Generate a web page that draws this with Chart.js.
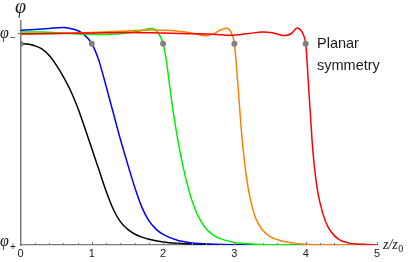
<!DOCTYPE html>
<html>
<head>
<meta charset="utf-8">
<script src="https://cdn.jsdelivr.net/npm/chart.js@4.4.1/dist/chart.umd.min.js"></script>
<style>
  html, body { margin: 0; padding: 0; background: #fff; }
</style>
</head>
<body>
<canvas id="chart_phi" width="410" height="262"></canvas>
<script>
// wall profiles; z in units of z0, phi: 0 = phi+, 1 = phi-
var blackZ = [0, 0.1, 0.2, 0.3, 0.4, 0.5, 0.6, 0.7, 0.8, 0.9, 1.0, 1.1, 1.2, 1.3, 1.4, 1.5, 1.6, 1.7, 1.8, 2.0, 2.2, 2.5, 3.0, 3.5, 5];
var blackPhi = [0.95, 0.948, 0.94, 0.925, 0.895, 0.85, 0.795, 0.73, 0.65, 0.555, 0.455, 0.355, 0.255, 0.17, 0.11, 0.075, 0.052, 0.037, 0.027, 0.014, 0.008, 0.004, 0.001, 0, 0];

var blueZ = [0, 0.2, 0.4, 0.6, 0.7, 0.8, 0.88, 0.95, 1.0, 1.05, 1.1, 1.2, 1.3, 1.4, 1.5, 1.6, 1.7, 1.8, 1.9, 2.0, 2.2, 2.4, 2.7, 3.0, 3.5, 5];
var bluePhi = [1.013, 1.017, 1.022, 1.026, 1.022, 1.012, 0.995, 0.973, 0.95, 0.915, 0.87, 0.75, 0.625, 0.5, 0.385, 0.275, 0.18, 0.115, 0.075, 0.05, 0.022, 0.01, 0.004, 0.001, 0, 0];

var greenZ = [0, 0.3, 0.6, 0.9, 1.2, 1.5, 1.7, 1.8, 1.85, 1.9, 1.95, 2.0, 2.05, 2.1, 2.15, 2.21, 2.3, 2.4, 2.5, 2.6, 2.7, 2.8, 3.0, 3.3, 3.6, 5];
var greenPhi = [1.005, 1.005, 1.0, 0.995, 0.993, 1.0, 1.012, 1.02, 1.022, 1.012, 0.99, 0.95, 0.86, 0.73, 0.61, 0.49, 0.34, 0.215, 0.13, 0.078, 0.048, 0.03, 0.012, 0.004, 0.001, 0];

var orangeZ = [0, 0.5, 1.0, 1.5, 1.8, 2.1, 2.4, 2.6, 2.7, 2.8, 2.89, 2.94, 2.97, 3.0, 3.03, 3.06, 3.1, 3.15, 3.2, 3.25, 3.3, 3.4, 3.5, 3.65, 3.8, 4.0, 4.3, 5];
var orangePhi = [0.995, 0.998, 1.003, 1.01, 1.014, 1.012, 1.0, 0.987, 0.995, 1.014, 1.023, 1.012, 0.99, 0.95, 0.84, 0.71, 0.53, 0.37, 0.255, 0.18, 0.125, 0.068, 0.04, 0.02, 0.01, 0.004, 0.001, 0];

var redZ = [0, 0.5, 1.0, 1.5, 2.0, 2.4, 2.7, 2.95, 3.2, 3.4, 3.55, 3.7, 3.8, 3.88, 3.94, 3.97, 4.0, 4.02, 4.04, 4.065, 4.09, 4.12, 4.16, 4.2, 4.28, 4.35, 4.47, 4.6, 4.8, 5];
var redPhi = [0.997, 0.998, 1.0, 1.003, 1.0, 0.997, 0.995, 0.99, 0.998, 1.005, 1.0, 0.988, 0.998, 1.024, 1.01, 0.99, 0.95, 0.86, 0.75, 0.62, 0.49, 0.375, 0.27, 0.2, 0.11, 0.065, 0.025, 0.01, 0.003, 0];

// gray markers on each profile
var dotZ = [0, 1, 2, 3, 4];
var dotPhi = [0.95, 0.95, 0.95, 0.95, 0.95];

var xTickStep = 1;
var xMinorStep = 0.2;

var axisColor = "#7a7a7a";

function toPoints(zs, ps) {
  var pts = [];
  for (var i = 0; i < zs.length; i++) {
    pts.push({ x: zs[i], y: ps[i] });
  }
  return pts;
}

function curve(zs, ps, color) {
  return {
    data: toPoints(zs, ps),
    showLine: true,
    borderColor: color,
    borderWidth: 1.5,
    pointRadius: 0,
    cubicInterpolationMode: 'monotone',
    fill: false
  };
}

// extra decorations: inward ticks, phi labels, axis label, annotation
var decor = {
  id: 'decor',
  afterDraw: function (chart) {
    var ctx = chart.ctx;
    var xs = chart.scales.x;
    var ys = chart.scales.y;
    var yBase = ys.getPixelForValue(0);
    var yMinus = ys.getPixelForValue(1);
    var xLeft = xs.getPixelForValue(0);
    ctx.save();
    ctx.strokeStyle = axisColor;
    ctx.lineWidth = 1;
    var n = Math.round((xs.max - xs.min) / xMinorStep);
    for (var i = 1; i <= n; i++) {
      var v = xs.min + i * xMinorStep;
      var px = Math.round(xs.getPixelForValue(v)) + 0.5;
      var len = (i % 5 == 0) ? 3 : 2;
      ctx.beginPath();
      ctx.moveTo(px, yBase);
      ctx.lineTo(px, yBase - len);
      ctx.stroke();
    }
    ctx.beginPath();
    ctx.moveTo(xLeft - 3, Math.round(yMinus) + 0.5);
    ctx.lineTo(xLeft, Math.round(yMinus) + 0.5);
    ctx.stroke();

    ctx.fillStyle = "#1a1a1a";
    ctx.textBaseline = 'alphabetic';
    ctx.textAlign = 'center';
    ctx.font = 'italic 20px "Liberation Serif"';
    ctx.fillText('\u03c6', xLeft, 13);

    ctx.textAlign = 'left';
    ctx.font = 'italic 16px "Liberation Serif"';
    ctx.fillText('\u03c6', 0, yMinus + 5);
    ctx.fillText('\u03c6', 0, yBase + 1);
    ctx.font = '10px "Liberation Sans"';
    ctx.fillText('\u2212', 10, yMinus + 7.5);
    ctx.fillText('+', 10, yBase + 5);

    var xRight = xs.getPixelForValue(xs.max);
    ctx.font = 'italic 14px "Liberation Serif"';
    ctx.fillText('z/z', xRight + 6, yBase + 4);
    var w = ctx.measureText('z/z').width;
    ctx.font = '10px "Liberation Serif"';
    ctx.fillText('0', xRight + 6 + w + 0.5, yBase + 7);

    ctx.fillStyle = "#1a1a1a";
    ctx.font = '14.5px "Liberation Sans"';
    ctx.fillText('Planar', 317, 48);
    ctx.fillText('symmetry', 317, 70);
    ctx.restore();
  }
};

function createPhiChart() {
  console.log("createPhiChart");
  new Chart(document.getElementById("chart_phi"), {
    type: 'scatter',
    data: {
      datasets: [
        {
          data: toPoints(dotZ, dotPhi),
          showLine: false,
          pointRadius: 3,
          pointBorderWidth: 0,
          pointBackgroundColor: "#808080",
          pointBorderColor: "#808080"
        },
        curve(redZ, redPhi, "#ff0000"),
        curve(orangeZ, orangePhi, "#ff8000"),
        curve(greenZ, greenPhi, "#00f000"),
        curve(blueZ, bluePhi, "#0000ff"),
        curve(blackZ, blackPhi, "#000000")
      ]
    },
    options: {
      responsive: false,
      animation: false,
      devicePixelRatio: 1,
      layout: { padding: { left: 0, right: 33, top: 21, bottom: 0 } },
      plugins: {
        legend: { display: false },
        tooltip: { enabled: false }
      },
      scales: {
        x: {
          type: 'linear',
          min: 0,
          max: 5,
          grid: { display: false, drawTicks: false },
          border: { display: true, color: axisColor, width: 1.2 },
          ticks: {
            stepSize: xTickStep,
            padding: 2,
            color: "#222",
            font: { family: "Liberation Sans", size: 11 },
            maxRotation: 0
          },
          afterFit: function (scale) { scale.height = 17; }
        },
        y: {
          type: 'linear',
          min: 0,
          max: 1.057,
          grid: { display: false, drawTicks: false },
          border: { display: true, color: axisColor, width: 1.5 },
          ticks: { display: false },
          afterFit: function (scale) { scale.width = 20.5; }
        }
      }
    },
    plugins: [decor]
  });
}

createPhiChart();
</script>
</body>
</html>
